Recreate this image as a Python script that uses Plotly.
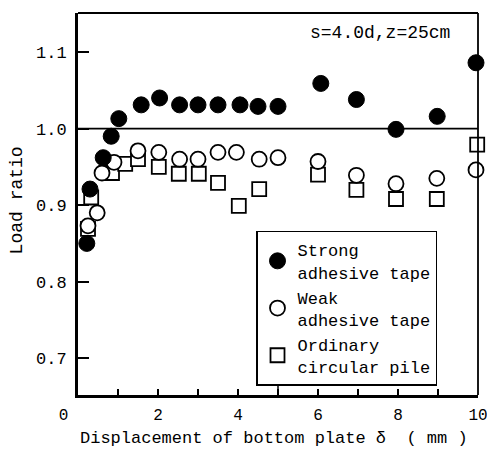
import plotly.graph_objects as go

# ---- data ----
strong_x = [0.22, 0.30, 0.63, 0.83, 1.02, 1.58, 2.04, 2.54, 3.00, 3.50, 4.05, 4.50, 5.00, 6.07, 6.96, 7.95, 8.98, 9.95]
strong_y = [0.850, 0.921, 0.962, 0.990, 1.013, 1.031, 1.040, 1.031, 1.031, 1.031, 1.031, 1.029, 1.029, 1.059, 1.038, 0.999, 1.016, 1.086]

weak_x = [0.25, 0.48, 0.60, 0.90, 1.50, 2.02, 2.54, 3.00, 3.50, 3.96, 4.53, 5.00, 6.00, 6.96, 7.95, 8.97, 9.95]
weak_y = [0.873, 0.890, 0.942, 0.956, 0.971, 0.969, 0.960, 0.960, 0.969, 0.969, 0.960, 0.962, 0.957, 0.939, 0.928, 0.935, 0.946]

ord_x = [0.25, 0.33, 0.85, 1.18, 1.50, 2.02, 2.52, 3.02, 3.50, 4.02, 4.53, 6.00, 6.96, 7.95, 8.97, 9.98]
ord_y = [0.869, 0.910, 0.942, 0.954, 0.960, 0.950, 0.941, 0.941, 0.929, 0.899, 0.921, 0.940, 0.920, 0.908, 0.908, 0.979]

x_tickvals = [0, 2, 4, 6, 8, 10]
x_ticktext = ["0\u00a0\u00a0\u00a0", "2", "4", "6", "8", "10"]
y_tickvals = [0.7, 0.8, 0.9, 1.0, 1.1]
y_ticktext = ["0.7", "0.8", "0.9", "1.0", "1.1"]

series_names = ["Strong<br>adhesive tape", "Weak<br>adhesive tape", "Ordinary<br>circular pile"]
x_title = "Displacement of bottom plate \u03b4  ( mm )"
y_title = "Load ratio"
note = "s=4.0d,z=25cm"

FONT = "Liberation Mono, Courier New, monospace"

fig = go.Figure()
fig.add_trace(go.Scatter(x=ord_x, y=ord_y, mode="markers", name=series_names[2],
                         marker=dict(symbol="square", size=14, color="white",
                                     line=dict(color="black", width=1.8)),
                         cliponaxis=False, legendrank=3))
fig.add_trace(go.Scatter(x=weak_x, y=weak_y, mode="markers", name=series_names[1],
                         marker=dict(symbol="circle", size=15, color="white",
                                     line=dict(color="black", width=1.8)),
                         cliponaxis=False, legendrank=2))
fig.add_trace(go.Scatter(x=strong_x, y=strong_y, mode="markers", name=series_names[0],
                         marker=dict(symbol="circle", size=16, color="black",
                                     line=dict(color="black", width=1)),
                         cliponaxis=False, legendrank=1))

# reference line at 1.0
fig.add_shape(type="line", xref="x", yref="y", x0=0, x1=10, y0=1.0, y1=1.0,
              line=dict(color="black", width=1.6), layer="below")
# tall tick at x=5
fig.add_shape(type="line", xref="x", yref="paper", x0=5, x1=5, y0=0, y1=0.033,
              line=dict(color="black", width=1.5))
# frame: thin top/right, thick left/bottom
fig.add_shape(type="line", xref="paper", yref="paper", x0=0, x1=1, y0=1, y1=1,
              line=dict(color="black", width=1.8))
fig.add_shape(type="line", xref="paper", yref="paper", x0=1, x1=1, y0=0, y1=1,
              line=dict(color="black", width=1.8))

fig.add_annotation(text=note, xref="paper", yref="paper", x=0.935, y=0.948,
                   xanchor="right", yanchor="middle", showarrow=False,
                   font=dict(family=FONT, size=18, color="black"))
fig.add_annotation(text=y_title, xref="paper", yref="paper", x=-0.152, y=0.51,
                   xanchor="center", yanchor="middle", textangle=-90, showarrow=False,
                   font=dict(family=FONT, size=18, color="black"))
fig.add_annotation(text=x_title, xref="paper", yref="paper", x=0.49, y=-0.1405,
                   xanchor="center", yanchor="bottom", showarrow=False, borderpad=0,
                   font=dict(family=FONT, size=17, color="black"))

fig.update_layout(
    width=487, height=449,
    margin=dict(l=78, r=9, t=13, b=54, autoexpand=False),
    paper_bgcolor="white", plot_bgcolor="white",
    font=dict(family=FONT, size=17, color="black"),
    showlegend=True,
    legend=dict(x=0.445, y=0.43, xanchor="left", yanchor="top",
                bordercolor="black", borderwidth=1.5, bgcolor="white",
                font=dict(family=FONT, size=17, color="black"),
                tracegroupgap=0, itemsizing="trace"),
    xaxis=dict(range=[0, 10], domain=[0, 1], tickvals=x_tickvals, ticktext=x_ticktext,
               ticks="inside", ticklen=6, tickwidth=1.5, tickcolor="black",
               minor=dict(dtick=1, ticks="inside", ticklen=6, tickwidth=1.5, tickcolor="black"),
               showgrid=False, zeroline=False, showline=True, linecolor="black", linewidth=3,
               tickfont=dict(family=FONT, size=16),
               ticklabelstandoff=3, ticklabeloverflow="allow", automargin=False),
    yaxis=dict(range=[0.652, 1.151], domain=[0, 1], tickvals=y_tickvals, ticktext=y_ticktext,
               ticks="inside", ticklen=11, tickwidth=1.5, tickcolor="black",
               showgrid=False, zeroline=False, showline=True, linecolor="black", linewidth=3,
               ticklabelstandoff=5, automargin=False),
)

fig.write_html("out.html")
